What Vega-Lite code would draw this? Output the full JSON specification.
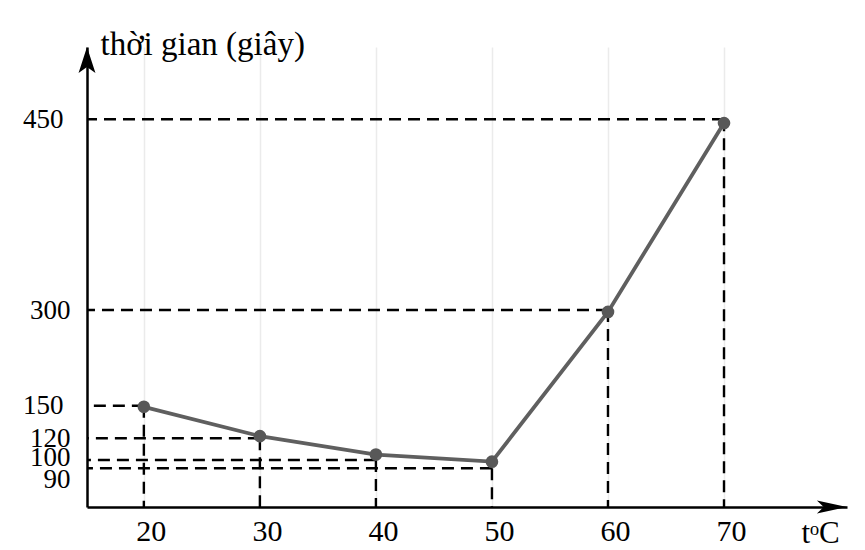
{
  "$schema": "https://vega.github.io/schema/vega-lite/v6.json",
  "width": 760,
  "height": 460,
  "autosize": {"type": "none"},
  "padding": {"left": 87, "top": 47, "right": 18, "bottom": 43},
  "config": {"view": {"stroke": null}, "font": "Liberation Serif"},
  "datasets": {
    "pts": [
      {"t": 20, "time": 149, "level": 150},
      {"t": 30, "time": 122, "level": 120},
      {"t": 40, "time": 105, "level": 100},
      {"t": 50, "time": 98, "level": 90},
      {"t": 60, "time": 297, "level": 300},
      {"t": 70, "time": 447, "level": 450}
    ]
  },
  "data": {"name": "pts"},
  "layer": [
    {
      "mark": {"type": "rule", "strokeDash": [12, 7], "strokeWidth": 2.4, "color": "black"},
      "encoding": {
        "x": {
          "field": "t",
          "type": "quantitative",
          "scale": {"domain": [15.1, 80.6], "nice": false, "zero": false},
          "axis": {
            "values": [20, 30, 40, 50, 60, 70],
            "title": "tᵒC",
            "domainColor": "black",
            "domainWidth": 2.5,
            "ticks": false,
            "labelFontSize": 30,
            "labelColor": "black",
            "labelPadding": 9,
            "labelOffset": 7,
            "labelFlush": false,
            "grid": true,
            "gridColor": "#ebebeb",
            "gridWidth": 1.5,
            "titleFontSize": 31,
            "titleFontWeight": "normal",
            "titleColor": "black",
            "titleX": 714,
            "titleY": 35,
            "titleAlign": "left",
            "titleBaseline": "alphabetic"
          }
        },
        "x2": {"datum": 15.1},
        "y": {
          "field": "level",
          "type": "quantitative",
          "scale": {
            "domain": [54, 90, 100, 120, 150, 300, 450, 507],
            "range": [460, 421.3, 413, 391.3, 358.7, 263, 72.3, 0],
            "nice": false,
            "zero": false
          },
          "axis": {
            "values": [90, 100, 120, 150, 300, 450],
            "title": "thời gian (giây)",
            "domainColor": "black",
            "domainWidth": 2.5,
            "ticks": false,
            "grid": false,
            "labelOverlap": false,
            "labelFontSize": 27,
            "labelColor": "black",
            "labelPadding": {"condition": {"test": "datum.value == 450 || datum.value == 150", "value": 24}, "value": 17},
            "labelOffset": {"condition": [{"test": "datum.value == 90", "value": 11}, {"test": "datum.value == 100", "value": -3}], "value": 0},
            "titleAngle": 0,
            "titleX": 13,
            "titleY": 7,
            "titleAlign": "left",
            "titleBaseline": "alphabetic",
            "titleFontSize": 33,
            "titleFontWeight": "normal",
            "titleColor": "black"
          }
        }
      }
    },
    {
      "mark": {"type": "rule", "strokeDash": [12, 7], "strokeWidth": 2.4, "color": "black"},
      "encoding": {
        "x": {"field": "t", "type": "quantitative"},
        "y": {"field": "level", "type": "quantitative"},
        "y2": {"datum": 54}
      }
    },
    {
      "mark": {"type": "line", "color": "#5f5f5f", "strokeWidth": 3.8},
      "encoding": {
        "x": {"field": "t", "type": "quantitative"},
        "y": {"field": "time", "type": "quantitative"}
      }
    },
    {
      "mark": {"type": "point", "filled": true, "color": "#585858", "size": 160, "opacity": 1},
      "encoding": {
        "x": {"field": "t", "type": "quantitative"},
        "y": {"field": "time", "type": "quantitative"}
      }
    },
    {
      "data": {"values": [{"a": "x"}]},
      "mark": {"type": "point", "shape": "M1,0 L-1,-0.43 L-0.55,0 L-1,0.43 Z", "filled": true, "color": "black", "size": 900, "opacity": 1},
      "encoding": {
        "x": {"datum": 79.3},
        "y": {"datum": 54}
      }
    },
    {
      "data": {"values": [{"a": "y"}]},
      "mark": {"type": "point", "shape": "M0,-1 L0.65,1 L0,0.55 L-0.65,1 Z", "filled": true, "color": "black", "size": 676, "opacity": 1},
      "encoding": {
        "x": {"datum": 15.1},
        "y": {"datum": 496.8}
      }
    }
  ]
}
